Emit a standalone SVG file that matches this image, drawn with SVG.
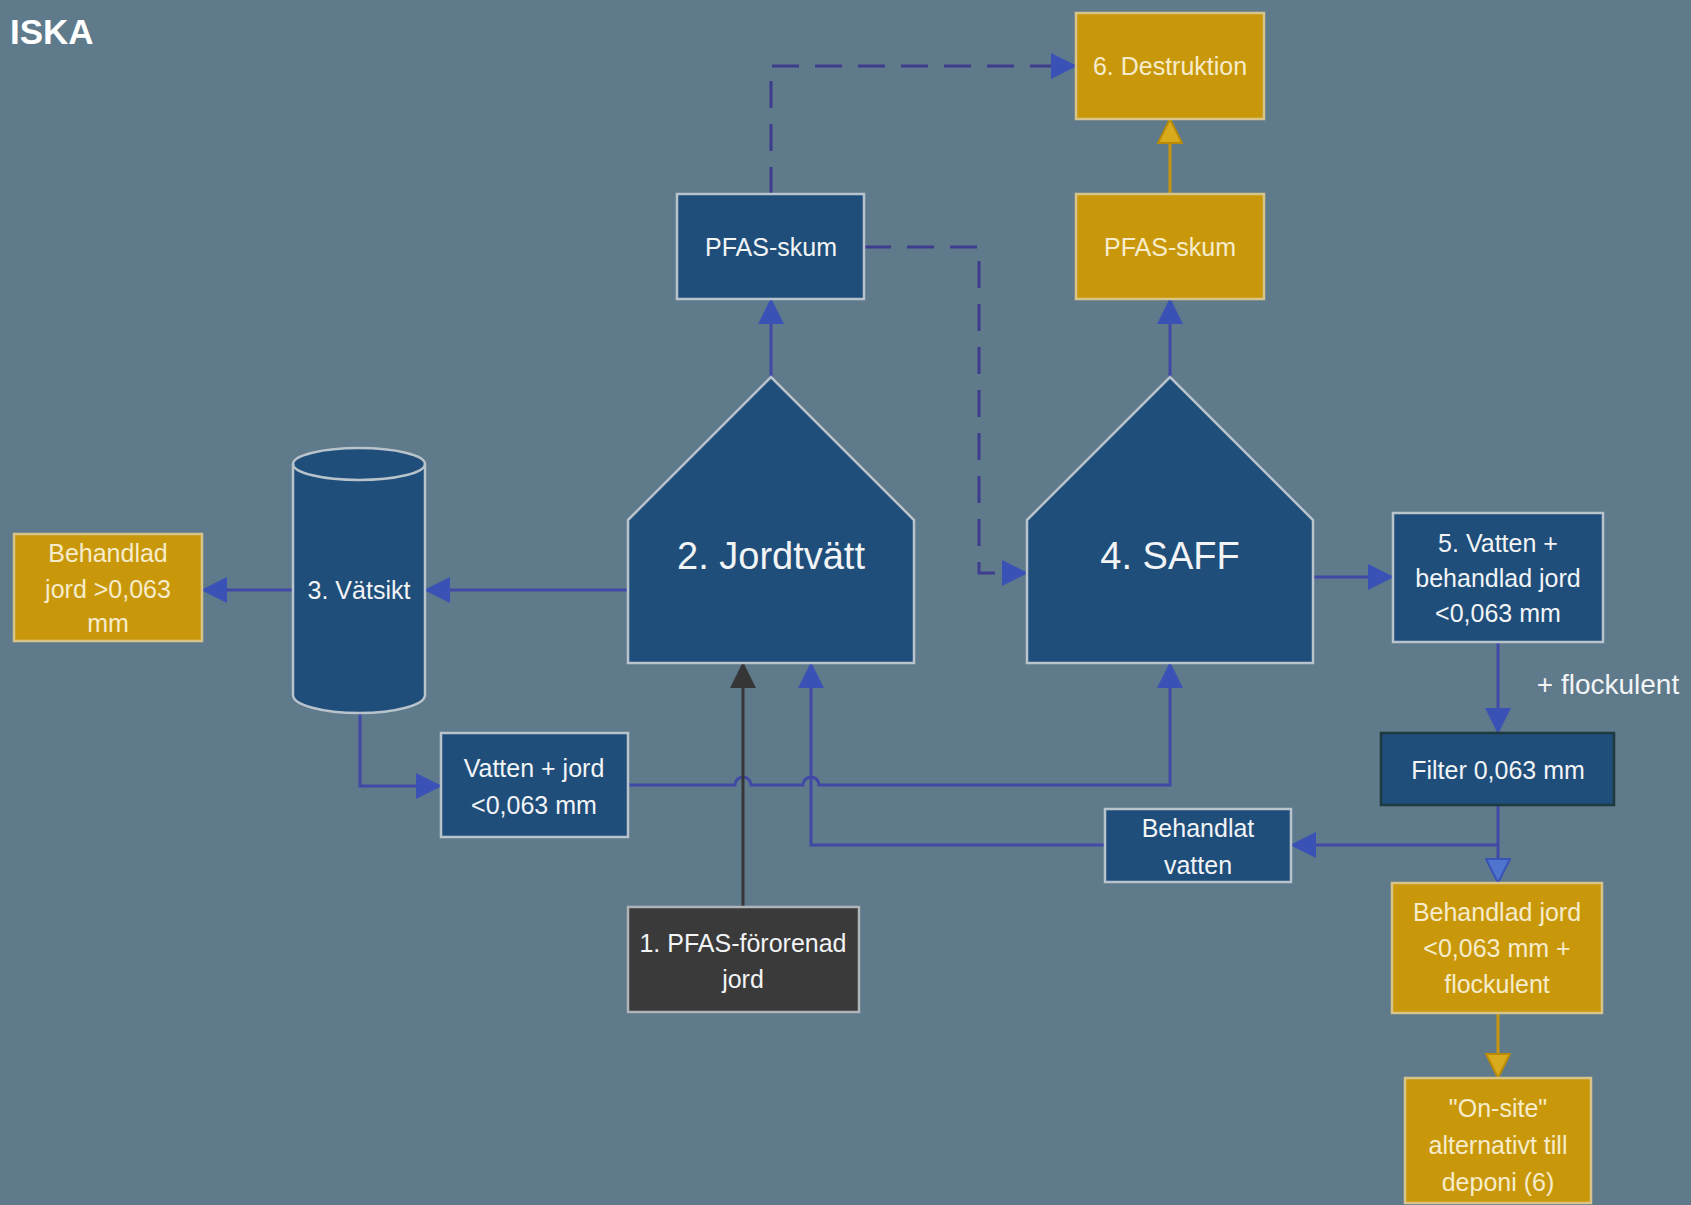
<svg xmlns="http://www.w3.org/2000/svg" width="1691" height="1205" viewBox="0 0 1691 1205">
<style>
.bg{fill:#5e7a8b}
.blue{fill:#1f4e7a;stroke:#b9c3cc;stroke-width:2.5}
.gold{fill:#c9980a;stroke:#d8c488;stroke-width:2.5}
.dark{fill:#3a3a3a;stroke:#b0b4b8;stroke-width:2.5}
.filt{fill:#1f4e7a;stroke:#1e3a3e;stroke-width:2.5}
.t{font-family:"Liberation Sans",Arial,sans-serif;font-size:25px;fill:#f2f4f6;text-anchor:middle;dominant-baseline:central}
.tg{fill:#f6eccb}
.big{font-size:38px}
.lbl{font-size:28px}
.ln{fill:none;stroke:#4148a6;stroke-width:3}
.lnd{fill:none;stroke:#3e3c8c;stroke-width:3;stroke-dasharray:27 16}
.lng{fill:none;stroke:#c8960c;stroke-width:3}
.lnk{fill:none;stroke:#363636;stroke-width:3}
</style>
<defs>
<marker id="ab" viewBox="0 0 26 26" refX="25" refY="13" markerWidth="26" markerHeight="26" markerUnits="userSpaceOnUse" orient="auto"><path d="M0,0 L26,13 L0,26 Z" fill="#3a52b6"/></marker>
<marker id="al" viewBox="0 0 26 26" refX="25" refY="13" markerWidth="26" markerHeight="26" markerUnits="userSpaceOnUse" orient="auto"><path d="M1,1 L25,13 L1,25 Z" fill="#4f74cf" stroke="#3a52b6" stroke-width="2"/></marker>
<marker id="ag" viewBox="0 0 26 26" refX="25" refY="13" markerWidth="26" markerHeight="26" markerUnits="userSpaceOnUse" orient="auto"><path d="M1,1 L25,13 L1,25 Z" fill="#d9aa1c" stroke="#b88a08" stroke-width="2"/></marker>
<marker id="ak" viewBox="0 0 26 26" refX="25" refY="13" markerWidth="26" markerHeight="26" markerUnits="userSpaceOnUse" orient="auto"><path d="M0,0 L26,13 L0,26 Z" fill="#363636"/></marker>
</defs>
<rect class="bg" x="0" y="0" width="1691" height="1205"/>
<text x="10" y="44" font-family="Liberation Sans,Arial,sans-serif" font-weight="bold" font-size="35" fill="#ffffff">ISKA</text>

<g id="connectors">
<path class="ln" d="M771,377 V299" marker-end="url(#ab)"/>
<path class="ln" d="M1170,377 V299" marker-end="url(#ab)"/>
<path class="lng" d="M1170,194 V119" marker-end="url(#ag)"/>
<path class="lnd" d="M771,194 V66 H1076" marker-end="url(#ab)"/>
<path class="lnd" d="M864,247 H979 V573 H1027" marker-end="url(#ab)"/>
<path class="ln" d="M628,590 H425" marker-end="url(#ab)"/>
<path class="ln" d="M293,590 H202" marker-end="url(#ab)"/>
<path class="ln" d="M360,713 V786 H441" marker-end="url(#ab)"/>
<path class="ln" d="M628,785 H735 A8,8 0 0 1 751,785 H803 A8,8 0 0 1 819,785 H1170 V663" marker-end="url(#ab)"/>
<path class="lnk" d="M743,907 V663" marker-end="url(#ak)"/>
<path class="ln" d="M1105,845 H811 V663" marker-end="url(#ab)"/>
<path class="ln" d="M1313,577 H1393" marker-end="url(#ab)"/>
<path class="ln" d="M1498,642 V733" marker-end="url(#ab)"/>
<path class="ln" d="M1498,805 V883" marker-end="url(#al)"/>
<path class="ln" d="M1498,845 H1291" marker-end="url(#ab)"/>
<path class="lng" d="M1498,1013 V1078" marker-end="url(#ag)"/>
</g>

<g id="n-destruktion">
<rect class="gold" x="1076" y="13" width="188" height="106"/>
<text class="t tg" x="1170" y="66">6. Destruktion</text>
</g>
<g id="n-pfas-skum-gold">
<rect class="gold" x="1076" y="194" width="188" height="105"/>
<text class="t tg" x="1170" y="247">PFAS-skum</text>
</g>
<g id="n-pfas-skum-blue">
<rect class="blue" x="677" y="194" width="187" height="105"/>
<text class="t" x="771" y="247">PFAS-skum</text>
</g>
<g id="n-jordtvatt">
<path class="blue" d="M628,520 L771,377 L914,520 V663 H628 Z"/>
<text class="t big" x="771" y="556">2. Jordtvätt</text>
</g>
<g id="n-saff">
<path class="blue" d="M1027,520 L1170,377 L1313,520 V663 H1027 Z"/>
<text class="t big" x="1170" y="556">4. SAFF</text>
</g>
<g id="n-vatsikt">
<path class="blue" d="M293,464 L293,695 A66,18 0 0 0 425,695 L425,464 A66,16 0 0 0 293,464 Z"/>
<path d="M293,464 A66,16 0 0 0 425,464" fill="none" stroke="#b9c3cc" stroke-width="2.5"/>
<text class="t" x="359" y="590">3. Vätsikt</text>
</g>
<g id="n-behandlad-grov">
<rect class="gold" x="14" y="534" width="188" height="107"/>
<text class="t tg" x="108" y="553">Behandlad</text>
<text class="t tg" x="108" y="589">jord &gt;0,063</text>
<text class="t tg" x="108" y="623">mm</text>
</g>
<g id="n-vatten-jord">
<rect class="blue" x="441" y="733" width="187" height="104"/>
<text class="t" x="534" y="768">Vatten + jord</text>
<text class="t" x="534" y="805">&lt;0,063 mm</text>
</g>
<g id="n-pfas-fororenad">
<rect class="dark" x="628" y="907" width="231" height="105"/>
<text class="t" x="743" y="943">1. PFAS-förorenad</text>
<text class="t" x="743" y="979">jord</text>
</g>
<g id="n-behandlat-vatten">
<rect class="blue" x="1105" y="809" width="186" height="73"/>
<text class="t" x="1198" y="828">Behandlat</text>
<text class="t" x="1198" y="865">vatten</text>
</g>
<g id="n-vatten-behandlad">
<rect class="blue" x="1393" y="513" width="210" height="129"/>
<text class="t" x="1498" y="543">5. Vatten +</text>
<text class="t" x="1498" y="578">behandlad  jord</text>
<text class="t" x="1498" y="613">&lt;0,063 mm</text>
</g>
<text class="t lbl" x="1608" y="684">+ flockulent</text>
<g id="n-filter">
<rect class="filt" x="1381" y="733" width="233" height="72"/>
<text class="t" x="1498" y="770">Filter 0,063 mm</text>
</g>
<g id="n-behandlad-fin">
<rect class="gold" x="1392" y="883" width="210" height="130"/>
<text class="t tg" x="1497" y="912">Behandlad jord</text>
<text class="t tg" x="1497" y="948">&lt;0,063 mm +</text>
<text class="t tg" x="1497" y="984">flockulent</text>
</g>
<g id="n-onsite">
<rect class="gold" x="1405" y="1078" width="186" height="125"/>
<text class="t tg" x="1498" y="1108">"On-site"</text>
<text class="t tg" x="1498" y="1145">alternativt till</text>
<text class="t tg" x="1498" y="1182">deponi (6)</text>
</g>
</svg>
